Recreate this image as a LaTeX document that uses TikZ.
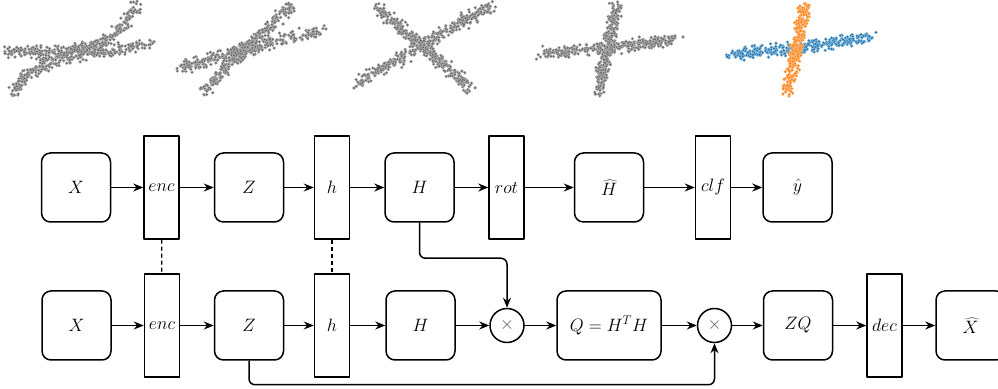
\RequirePackage{fix-cm}
\documentclass[tikz,border=0pt]{standalone}
\usetikzlibrary{arrows.meta}

\definecolor{ptgray}{RGB}{105,105,105}
\definecolor{ptblue}{RGB}{31,119,180}
\definecolor{ptorange}{RGB}{255,127,14}

% scattered points along a path
\newcommand\cloud[3]{%
  \foreach \i in {1,...,#1}{%
    \pgfmathsetmacro\cpos{rnd}%
    \pgfmathsetmacro\cdx{3.7*(rand+rand)}%
    \pgfmathsetmacro\cdy{3.7*(rand+rand)}%
    \path #3 coordinate[pos=\cpos] (pt);
    \filldraw[fill=#2,draw=white!55!#2,line width=0.3bp] ([shift={(\cdx bp,\cdy bp)}]pt) circle (1.6bp);
  }}

\begin{document}
\begin{tikzpicture}[>={Stealth[length=10bp,width=8bp]},line join=bevel,
  every node/.style={font=\fontsize{18}{22}\selectfont},
  box/.style={draw,rounded corners=9bp,minimum width=69bp,minimum height=69bp,inner sep=0pt,line width=1.5bp},
  layer/.style={draw,minimum width=35bp,minimum height=103bp,inner sep=0pt,line width=1.5bp},
  prod/.style={draw,circle,minimum size=34bp,inner sep=0pt,line width=1.5bp,text=black!65},
  link/.style={black,->,line width=1.5bp}]
\useasboundingbox (0bp,0bp) rectangle (998bp,389bp);
\pgfmathsetseed{11}
%% point clouds
\cloud{330}{ptgray}{(7bp,337bp) .. controls (55bp,339bp) and (110bp,327bp) .. (138bp,386bp)}
\cloud{330}{ptgray}{(14bp,294bp) .. controls (25bp,334bp) and (90bp,334bp) .. (151bp,345bp)}
\cloud{330}{ptgray}{(180bp,321bp) .. controls (230bp,334bp) and (270bp,349bp) .. (323bp,358bp)}
\cloud{300}{ptgray}{(203bp,297bp) .. controls (230bp,327bp) and (260bp,354bp) .. (293bp,385bp)}
\cloud{340}{ptgray}{(377bp,381bp) -- (470bp,301bp)}
\cloud{340}{ptgray}{(353bp,304bp) -- (492bp,384bp)}
\cloud{330}{ptgray}{(542bp,336bp) .. controls (580bp,338bp) and (640bp,344bp) .. (673bp,349bp)}
\cloud{300}{ptgray}{(617bp,384bp) -- (598bp,296bp)}
\filldraw[fill=ptgray,draw=white!55!ptgray,line width=0.3bp] (683bp,352bp) circle (1.6bp);
\cloud{350}{ptblue}{(730bp,334bp) .. controls (770bp,339bp) and (830bp,344bp) .. (872bp,352bp)}
\cloud{300}{ptorange}{(805bp,384bp) -- (787bp,296bp)}
%% top row
\node (x_top) at (76bp,201.5bp) [box] {$X$};
  \node (enc_top) at (161.5bp,201.5bp) [layer] {$enc$};
  \node (z_top) at (249bp,201.5bp) [box] {$Z$};
  \node (h_top) at (332bp,201.5bp) [layer] {$h$};
  \node (hh_top) at (419.5bp,201.5bp) [box] {$H$};
  \node (rot_top) at (506.5bp,201.5bp) [layer] {$rot$};
  \node (hhat_top) at (609bp,201.5bp) [box] {$\widehat{H}$};
  \node (clf_top) at (713bp,201.5bp) [layer] {$clf$};
  \node (yhat_top) at (797.5bp,201.5bp) [box] {$\hat{y}$};
%% bottom row
\node (x_bot) at (76.5bp,63.5bp) [box] {$X$};
  \node (enc_bot) at (162bp,63.5bp) [layer] {$enc$};
  \node (z_bot) at (249bp,63.5bp) [box] {$Z$};
  \node (h_bot) at (332bp,63.5bp) [layer] {$h$};
  \node (hh_bot) at (420.5bp,63.5bp) [box] {$H$};
  \node (prod_0) at (507bp,63.5bp) [prod] {$\times$};
  \node (q_bot) at (609bp,63.5bp) [box,minimum width=104bp] {$Q = H^T H$};
  \node (prod_1) at (714.5bp,63.5bp) [prod] {$\times$};
  \node (zq_bot) at (798bp,63.5bp) [box] {$ZQ$};
  \node (dec_bot) at (884.5bp,63.5bp) [layer] {$dec$};
  \node (xhat_bot) at (970.5bp,63.5bp) [box] {$\widehat{X}$};
%% arrows
\draw [link] (x_top) -- (enc_top);
  \draw [link] (enc_top) -- (z_top);
  \draw [link] (z_top) -- (h_top);
  \draw [link] (h_top) -- (hh_top);
  \draw [link] (hh_top) -- (rot_top);
  \draw [link] (rot_top) -- (hhat_top);
  \draw [link] (hhat_top) -- (clf_top);
  \draw [link] (clf_top) -- (yhat_top);
  \draw [link] (x_bot) -- (enc_bot);
  \draw [link] (enc_bot) -- (z_bot);
  \draw [link] (z_bot) -- (h_bot);
  \draw [link] (h_bot) -- (hh_bot);
  \draw [link] (hh_bot) -- (prod_0);
  \draw [link] (prod_0) -- (q_bot);
  \draw [link] (q_bot) -- (prod_1);
  \draw [link] (prod_1) -- (zq_bot);
  \draw [link] (zq_bot) -- (dec_bot);
  \draw [link] (dec_bot) -- (xhat_bot);
  \draw [link,rounded corners=6bp] (hh_top.south) -- ++(0bp,-35.5bp) -| (prod_0);
  \draw [link,rounded corners=6bp] (z_bot.south) -- ++(0bp,-24bp) -| (prod_1);
  \draw [black,dash pattern=on 4bp off 3bp,line width=1.3bp] (enc_top) -- (enc_bot);
  \draw [black,dash pattern=on 4bp off 3bp,line width=1.3bp] (h_top) -- (h_bot);
%
\end{tikzpicture}
\end{document}
